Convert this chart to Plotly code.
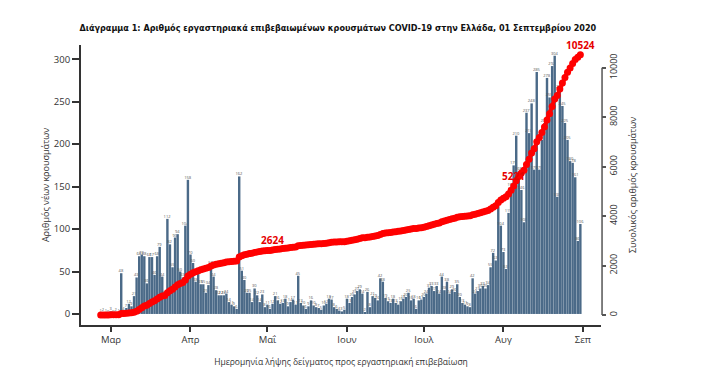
import numpy as np
import pandas as pd
import plotly.graph_objects as go

# ---- data ----
start_date = "2020-02-26"
new_cases = [
    1, 2, 1, 0, 3, 0, 2, 1,
    48,
    4, 7, 12, 9, 21,
    43, 68, 70, 68, 36, 67, 67,
    46, 68, 79, 44, 22, 112, 82,
    55, 90, 94, 50, 43, 104, 158,
    70, 60, 38, 47, 35, 35, 25,
    34, 58, 44, 28, 22, 22, 22,
    24, 14, 11, 9, 6, 162, 51,
    40, 25, 25, 14, 30, 22, 14,
    23,
    8, 11, 6, 12, 21, 16, 12,
    13, 18, 9, 14, 17, 11, 45, 13, 10, 6,
    9, 16, 10, 8, 7, 5, 10, 12, 18, 17,
    8, 6, 4, 3, 5, 18, 13, 20, 23, 27,
    29, 24, 2, 26, 8, 21, 19, 16, 42, 38,
    19, 15, 13, 18, 13, 11, 15, 18, 20, 25,
    16, 18, 6, 16, 17, 20, 24, 31, 33, 27,
    33, 24, 44, 28, 38, 24, 29, 26, 35, 20,
    13, 11, 9, 8, 42, 24, 27,
    30, 33, 30, 34, 55, 72, 63, 127, 104, 73, 53, 119, 150,
    175, 210, 168, 146, 108, 237, 213, 248, 170, 285, 170, 205, 225, 278,
    255, 292, 304, 138, 265, 245, 225, 205, 180, 178, 161, 86, 106,
]
dates = pd.date_range(start_date, periods=len(new_cases), freq="D")
cumulative = np.cumsum(new_cases)

labelled_days = ["2020-05-03", "2020-08-05", "2020-08-31"]

tick_dates = ["2020-03-01", "2020-04-01", "2020-05-01", "2020-06-01",
              "2020-07-01", "2020-08-01", "2020-09-01"]
tick_labels = ["Μαρ", "Απρ", "Μαΐ", "Ιουν", "Ιουλ", "Αυγ", "Σεπ"]
left_ticks = [0, 50, 100, 150, 200, 250, 300]
right_ticks = [0, 2000, 4000, 6000, 8000, 10000]
right_tick_labels = ["0", "2000", "4000", "6000", "8000", "10000"]

title_text = ("Διάγραμμα 1: Αριθμός εργαστηριακά επιβεβαιωμένων κρουσμάτων "
              "COVID-19 στην Ελλάδα, 01 Σεπτεμβρίου 2020")
x_title = "Ημερομηνία λήψης δείγματος προς εργαστηριακή επιβεβαίωση"
y_title = "Αριθμός νέων κρουσμάτων"
y2_title = "Συνολικός αριθμός κρουσμάτων"

# ---- styling ----
BAR = "#4b6a88"
RED = "#ff0000"
AX = "#333333"
FONT = "Open Sans, Noto Sans, DejaVu Sans, sans-serif"

# the page body has an 8px margin, so the figure is 8px smaller than the window
W, H = 696, 366

fig = go.Figure()
fig.add_trace(go.Bar(
    x=dates, y=new_cases,
    marker=dict(color=BAR, line=dict(width=0)),
    text=[str(v) for v in new_cases],
    textposition="outside",
    textfont=dict(size=4, color="#555555", family=FONT),
    constraintext="none",
    cliponaxis=False,
    hoverinfo="x+y",
))
fig.add_trace(go.Scatter(
    x=dates, y=cumulative, yaxis="y2",
    mode="lines+markers",
    line=dict(color=RED, width=4),
    marker=dict(color=RED, size=7),
    hoverinfo="x+y",
))

annotations = []
for d in labelled_days:
    idx = list(dates).index(pd.Timestamp(d))
    annotations.append(dict(
        x=dates[idx], y=int(cumulative[idx]), xref="x", yref="y2",
        text="<b>%d</b>" % int(cumulative[idx]), showarrow=False,
        yshift=10, font=dict(color="#e60000", size=10, family=FONT),
    ))

fig.update_layout(
    width=W, height=H,
    margin=dict(l=73, r=103, t=37, b=49, autoexpand=False),
    paper_bgcolor="white", plot_bgcolor="white",
    showlegend=False,
    bargap=0.06,
    font=dict(family=FONT, color=AX),
    title=dict(
        text="<b>" + title_text + "</b>",
        x=0.474, xanchor="center", y=1 - 20 / H, yanchor="middle",
        yref="container",
        font=dict(family="Liberation Sans Narrow, Arial Narrow, DejaVu Sans Condensed, sans-serif",
                  size=9.0, color="#111111"),
    ),
    xaxis=dict(
        type="date", automargin=False,
        range=["2020-02-18 07:40", "2020-09-08 01:10"],
        showgrid=False, zeroline=False,
        showline=True, linecolor=AX, linewidth=2,
        ticks="outside", ticklen=5, tickwidth=1.5, tickcolor=AX,
        tickvals=tick_dates, ticktext=tick_labels,
        tickfont=dict(size=9.5, color=AX),
        title=dict(text=x_title, font=dict(size=8.5, color=AX), standoff=14),
    ),
    yaxis=dict(
        automargin=False,
        range=[-13, 316.8],
        showgrid=False, zeroline=False,
        showline=True, linecolor=AX, linewidth=2,
        ticks="outside", ticklen=7, tickwidth=1.5, tickcolor=AX,
        tickvals=left_ticks,
        tickfont=dict(size=9.5, color=AX),
        title=dict(text=y_title, font=dict(size=9, color=AX), standoff=3),
    ),
    yaxis2=dict(
        overlaying="y", side="right", anchor="x", automargin=False,
        range=[-404, 10918],
        showgrid=False, zeroline=False, showline=False,
        ticks="outside", ticklen=4, tickwidth=1.5, tickcolor="#555555",
        tickvals=right_ticks, ticktext=right_tick_labels, tickangle=-90,
        tickfont=dict(size=9, color=AX),
        title=dict(text=y2_title, font=dict(size=9, color=AX), standoff=10),
    ),
    annotations=annotations,
    shapes=[dict(type="line", xref="paper", yref="y2",
                 x0=1.002, x1=1.002, y0=right_ticks[0], y1=right_ticks[-1],
                 line=dict(color="#555555", width=1.5))],
)

fig.write_html("out.html")
